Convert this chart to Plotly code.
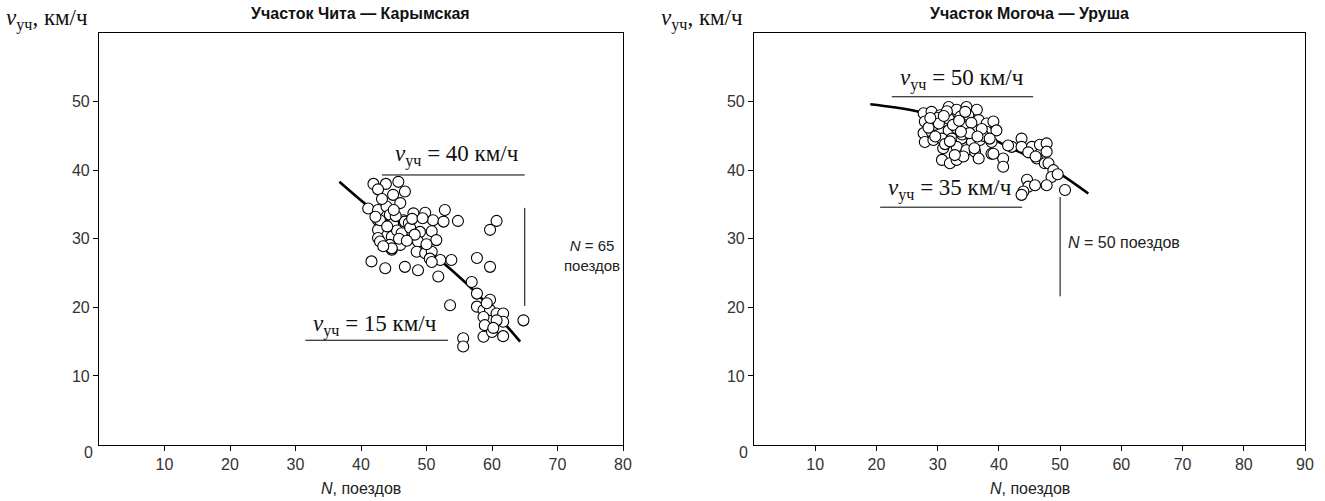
import plotly.graph_objects as go

# ---------------- data ----------------
titles = ["Участок Чита — Карымская", "Участок Могоча — Уруша"]

left_n = [41.9, 43.8, 45.7, 42.6, 44.9, 46.7, 46.0, 41.1, 42.6, 43.9, 42.6, 44.4, 44.9, 46.5,
          48.0, 49.8, 51.0, 52.8, 52.6, 54.8, 46.7, 49.0, 50.8, 42.6, 42.6, 44.7, 44.4, 46.0,
          48.0, 48.7, 44.7, 48.5, 49.8, 50.8, 50.5, 52.1, 53.8, 41.6, 43.7, 46.7, 48.7, 51.8,
          42.9, 42.9, 44.7, 45.5, 47.3, 46.2, 50.8, 60.7, 59.7, 57.7, 59.7, 56.9, 57.7, 59.7,
          57.7, 58.7, 59.7, 60.7, 61.7, 58.7, 61.7, 60.7, 64.8, 58.9, 53.6, 55.6, 55.6, 58.7,
          60.0, 61.7, 45.3, 47.5, 43.2, 51.5, 44.0, 45.8, 47.8, 43.4, 48.2, 49.4, 45.0, 42.2,
          47.0, 50.0, 59.2, 60.2]
left_v = [38.0, 38.0, 38.3, 37.2, 36.4, 36.9, 35.2, 34.4, 34.2, 34.7, 32.7, 33.5, 32.2, 32.7,
          33.7, 33.8, 32.7, 34.2, 32.5, 32.6, 32.5, 31.0, 31.1, 31.3, 30.1, 30.3, 29.1, 29.1,
          30.1, 29.6, 28.4, 28.1, 27.9, 28.1, 27.1, 26.9, 26.9, 26.7, 25.7, 25.9, 25.4, 24.5,
          32.7, 29.6, 28.6, 31.2, 32.3, 30.8, 26.6, 32.6, 31.3, 27.2, 25.9, 23.7, 22.0, 21.1,
          20.1, 19.6, 19.6, 19.1, 19.1, 18.6, 17.9, 18.1, 18.1, 17.4, 20.3, 15.5, 14.3, 15.7,
          16.4, 15.8, 33.3, 31.6, 35.8, 29.8, 31.8, 30.0, 32.9, 28.9, 30.6, 33.0, 34.2, 33.2,
          29.7, 29.2, 20.6, 17.0]

right_n = [27.7, 29.0, 30.4, 31.8, 33.1, 34.7, 36.4, 27.9, 29.8, 31.8, 33.7, 35.0, 36.7, 38.0,
           39.1, 27.7, 29.0, 30.4, 31.8, 33.1, 34.7, 36.1, 38.0, 39.6, 27.9, 29.3, 30.7, 32.3,
           33.9, 35.6, 36.9, 38.8, 30.9, 33.1, 34.7, 36.1, 38.8, 40.7, 30.7, 32.0, 33.1, 34.2,
           36.7, 40.7, 39.1, 42.1, 43.7, 43.7, 45.4, 46.7, 47.8, 47.8, 46.2, 47.5, 48.1, 48.9,
           48.6, 44.6, 44.8, 44.0, 43.7, 45.9, 47.8, 50.8, 32.5, 35.5, 31.2, 37.5, 29.5, 34.0,
           30.0, 36.0, 32.8, 41.5, 49.6, 28.5, 30.2, 31.5, 32.0, 33.5, 35.2, 37.2, 38.5, 29.6,
           31.0, 33.8, 36.5, 28.8, 34.5, 44.8, 46.0]
right_v = [48.3, 48.5, 48.0, 49.2, 48.8, 49.2, 48.8, 47.1, 47.1, 47.5, 47.8, 48.0, 47.3, 46.8,
           47.1, 45.4, 45.6, 45.8, 45.8, 46.1, 46.3, 45.8, 45.6, 45.8, 44.1, 44.4, 44.6, 44.6,
           44.6, 44.1, 44.4, 44.1, 43.2, 43.4, 42.9, 42.7, 42.4, 41.7, 41.5, 41.0, 41.5, 42.0,
           41.7, 40.5, 42.4, 43.4, 44.6, 43.4, 43.4, 43.7, 43.9, 42.7, 41.7, 41.0, 41.0, 40.0,
           39.0, 38.6, 37.6, 36.9, 36.4, 37.8, 37.8, 37.1, 46.6, 46.9, 43.8, 45.0, 46.6, 45.2,
           47.6, 43.2, 42.2, 43.6, 39.4, 46.2, 46.8, 48.6, 44.2, 47.2, 45.4, 46.0, 44.6, 44.9,
           47.9, 45.6, 44.9, 47.6, 48.5, 42.6, 42.0]

left_fit_n = [36.7, 41.0, 46.0, 50.0, 54.0, 58.0, 61.2, 64.3]
left_fit_v = [38.3, 34.8, 31.2, 28.4, 25.3, 21.7, 18.4, 15.0]
right_fit_n = [19.0, 26.0, 32.0, 37.0, 41.3, 47.8, 54.6]
right_fit_v = [49.6, 48.7, 47.3, 45.4, 43.5, 40.7, 36.6]

x_ticks_left = [10, 20, 30, 40, 50, 60, 70, 80]
x_ticks_right = [10, 20, 30, 40, 50, 60, 70, 80, 90]
y_ticks = [10, 20, 30, 40, 50]

# ---------------- figure ----------------
W, H = 1325, 501
fig = go.Figure()

marker = dict(symbol="circle", size=11, color="white", line=dict(color="black", width=1.1))

fig.add_trace(go.Scatter(x=left_fit_n, y=left_fit_v, mode="lines", line=dict(color="black", width=2.6, shape="spline"),
                         xaxis="x", yaxis="y", showlegend=False, hoverinfo="skip"))
fig.add_trace(go.Scatter(x=left_n, y=left_v, mode="markers", marker=marker, xaxis="x", yaxis="y", showlegend=False))
fig.add_trace(go.Scatter(x=right_fit_n, y=right_fit_v, mode="lines", line=dict(color="black", width=2.6, shape="spline"),
                         xaxis="x2", yaxis="y2", showlegend=False, hoverinfo="skip"))
fig.add_trace(go.Scatter(x=right_n, y=right_v, mode="markers", marker=marker, xaxis="x2", yaxis="y2", showlegend=False))

L = (99, 623)
R = (754, 1305)
TOP, BOT = 33, 444.5
ydom = [1 - BOT / H, 1 - TOP / H]

tickfont = dict(family="Liberation Sans, Arial, sans-serif", size=16, color="#333")
common_x = dict(showline=True, mirror=True, linecolor="black", linewidth=1.2, ticks="outside", ticklen=5,
                tickcolor="black", tickwidth=1, showgrid=False, zeroline=False, tickfont=tickfont,
                fixedrange=True, automargin=False)
common_y = dict(common_x, tickvals=y_ticks, range=[0, 60])

fig.update_layout(
    width=W, height=H, margin=dict(l=0, r=0, t=0, b=0),
    paper_bgcolor="white", plot_bgcolor="white",
    xaxis=dict(common_x, domain=[L[0] / W, L[1] / W], range=[0, 80], tickvals=x_ticks_left, anchor="y"),
    yaxis=dict(common_y, domain=ydom, anchor="x"),
    xaxis2=dict(common_x, domain=[R[0] / W, R[1] / W], range=[0, 90], tickvals=x_ticks_right, anchor="y2"),
    yaxis2=dict(common_y, domain=ydom, anchor="x2"),
)

serif = dict(family="Liberation Serif, Times New Roman, serif", size=23, color="#111")
sans = dict(family="Liberation Sans, Arial, sans-serif", size=16, color="#222")
annos = []


def paper_text(xpx, ypx, text, font, xanchor="center"):
    return dict(x=xpx / W, y=1 - ypx / H, xref="paper", yref="paper", text=text, showarrow=False,
                font=font, xanchor=xanchor, yanchor="middle")


# titles
for t, (a, b) in zip(titles, [L, R]):
    annos.append(paper_text((a + b) / 2, 13, f"<b>{t}</b>",
                            dict(family="Liberation Sans, Arial, sans-serif", size=16, color="#111")))
# y axis labels
for xpx in [4, 659]:
    annos.append(paper_text(xpx, 20, "<i>v</i><sub>уч</sub>, км/ч",
                            dict(family="Liberation Serif, Times New Roman, serif", size=23, color="#111"),
                            xanchor="left"))
# x axis titles
for a, b in [L, R]:
    annos.append(paper_text((a + b) / 2, 488, "<i>N</i>, поездов", sans))
# zero labels
for xpx in [88, 743]:
    annos.append(paper_text(xpx, 452, "0", tickfont))


def speed(x, y, v, xr, yr):
    return dict(x=x, y=y, xref=xr, yref=yr, showarrow=False, font=serif, xanchor="center", yanchor="middle",
                text=f"<i>v</i><sub>уч</sub> = {v} км/ч")


annos += [speed(54.6, 42.2, 40, "x", "y"), speed(42.1, 17.4, 15, "x", "y"),
          speed(34.0, 53.2, 50, "x2", "y2"), speed(32.0, 37.2, 35, "x2", "y2")]
annos.append(dict(x=75.3, y=27.6, xref="x", yref="y", showarrow=False,
                  font=dict(sans, size=15), xanchor="center",
                  yanchor="middle", text="<i>N</i> = 65<br>поездов", align="center"))
annos.append(dict(x=51.0, y=29.4, xref="x2", yref="y2", showarrow=False, font=sans, xanchor="left",
                  yanchor="middle", text="<i>N</i> = 50 поездов"))
fig.update_layout(annotations=annos)

ln = dict(color="black", width=1)
shapes = [
    dict(type="line", xref="x", yref="y", x0=43.2, x1=65.0, y0=39.3, y1=39.3, line=ln),
    dict(type="line", xref="x", yref="y", x0=31.5, x1=53.3, y0=15.2, y1=15.2, line=ln),
    dict(type="line", xref="x", yref="y", x0=65, x1=65, y0=20.2, y1=34.5, line=ln),
    dict(type="line", xref="x2", yref="y2", x0=22.5, x1=45.6, y0=50.7, y1=50.7, line=ln),
    dict(type="line", xref="x2", yref="y2", x0=20.6, x1=43.8, y0=34.6, y1=34.6, line=ln),
    dict(type="line", xref="x2", yref="y2", x0=50, x1=50, y0=21.6, y1=36.1, line=ln),
]
fig.update_layout(shapes=shapes)

fig.write_html("out.html")
